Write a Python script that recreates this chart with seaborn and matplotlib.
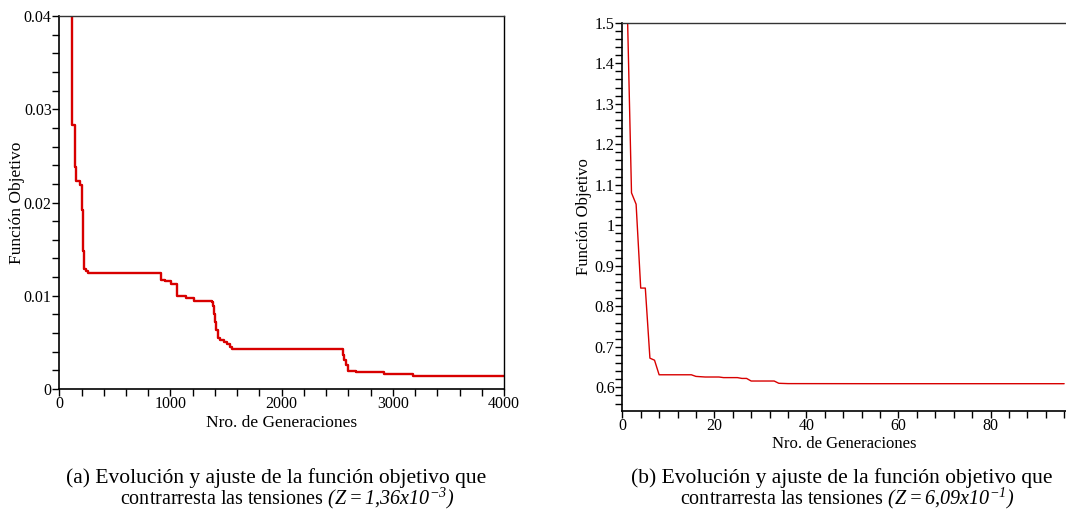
import matplotlib
matplotlib.use("Agg")
import matplotlib.pyplot as plt
import seaborn as sns
import pandas as pd
from matplotlib.ticker import MultipleLocator, FixedLocator, FixedFormatter

# ---------------- data ----------------
# (a) step evolution of the objective function over 4000 generations
gen_a = [1, 117, 138, 146, 183, 201, 205, 207, 213, 218, 222, 225, 243, 255,
         913, 949, 1009, 1059, 1062, 1137, 1209, 1377, 1385, 1392, 1400, 1410,
         1428, 1446, 1485, 1506, 1536, 1554, 2550, 2565, 2580, 2600, 2671,
         2925, 3180, 4000]
val_a = [0.09, 0.02835, 0.02383, 0.0223, 0.02184, 0.02131, 0.01953, 0.01918,
         0.01483, 0.0139, 0.01341, 0.01288, 0.01263, 0.01241,
         0.01171, 0.01156, 0.01128, 0.0107, 0.00993, 0.00979, 0.00939, 0.00928,
         0.00886, 0.00808, 0.00718, 0.0063, 0.00552, 0.0053, 0.00505, 0.0048,
         0.00452, 0.0043, 0.00363, 0.00309, 0.00256, 0.00196, 0.00186,
         0.00157, 0.00143, 0.00143]

# (b) evolution over ~96 generations
gen_b = [1, 2, 3, 4, 5, 6, 7, 8, 15, 16, 18, 21, 22, 25, 26, 27, 28, 33, 34,
         36, 54, 96]
val_b = [1.58, 1.08, 1.052, 0.845, 0.845, 0.672, 0.667, 0.631, 0.631, 0.627,
         0.6255, 0.6255, 0.624, 0.624, 0.622, 0.622, 0.6156, 0.6156, 0.610,
         0.6092, 0.609, 0.609]

ytick_a = [0, 0.01, 0.02, 0.03, 0.04]
ytick_a_labels = ["0", "0.01", "0.02", "0.03", "0.04"]
xtick_a = [0, 1000, 2000, 3000, 4000]
xtick_a_labels = ["0", "1000", "2000", "3000", "4000"]

ytick_b = [0.6, 0.7, 0.8, 0.9, 1.0, 1.1, 1.2, 1.3, 1.4, 1.5]
ytick_b_labels = ["0.6", "0.7", "0.8", "0.9", "1", "1.1", "1.2", "1.3", "1.4", "1.5"]
xtick_b = [0, 20, 40, 60, 80]
xtick_b_labels = ["0", "20", "40", "60", "80"]

xlabel = "Nro. de Generaciones"
ylabel = "Función Objetivo"
cap_a1 = "(a) Evolución y ajuste de la función objetivo que"
cap_a2 = r"contrarresta las tensiones $\mathsf{(Z{=}1{,}36x10^{-3})}$"
cap_b1 = "(b) Evolución y ajuste de la función objetivo que"
cap_b2 = r"contrarresta las tensiones $\mathsf{(Z{=}6{,}09x10^{-1})}$"

# ---------------- style ----------------
sns.set_theme(style="white")
plt.rcParams["font.family"] = ["Liberation Serif", "DejaVu Serif"]
plt.rcParams["text.color"] = "black"
plt.rcParams["mathtext.fontset"] = "custom"
plt.rcParams["mathtext.rm"] = "Liberation Serif"
plt.rcParams["mathtext.it"] = "Liberation Serif:italic"
plt.rcParams["mathtext.sf"] = "Liberation Serif:italic"
plt.rcParams["mathtext.bf"] = "Liberation Serif:bold"

RED = "#d80000"
W, H = 1066, 515
fig = plt.figure(figsize=(W / 100, H / 100), dpi=100)
fig.patch.set_facecolor("white")

def px_axes(l, t, r, b):
    return fig.add_axes([l / W, 1 - b / H, (r - l) / W, (b - t) / H])

ax1 = px_axes(59.3, 16, 504, 389)
ax2 = px_axes(622.3, 22.7, 1066, 411)

df_a = pd.DataFrame({"gen": gen_a, "val": val_a})
df_b = pd.DataFrame({"gen": gen_b, "val": val_b})

sns.lineplot(data=df_a, x="gen", y="val", ax=ax1, color=RED, linewidth=1.7,
             drawstyle="steps-post", estimator=None)
sns.lineplot(data=df_b, x="gen", y="val", ax=ax2, color=RED, linewidth=1.0,
             estimator=None)

ax1.set_xlim(0, 4000)
ax1.set_ylim(0, 0.04)
ax2.set_xlim(0, 96.4)
ax2.set_ylim(0.5416, 1.5)

for ax, xt, xtl, yt, ytl, xmin, ymin in [
        (ax1, xtick_a, xtick_a_labels, ytick_a, ytick_a_labels, 200, 0.002),
        (ax2, xtick_b, xtick_b_labels, ytick_b, ytick_b_labels, 4, 0.02)]:
    ax.xaxis.set_major_locator(FixedLocator(xt))
    ax.xaxis.set_major_formatter(FixedFormatter(xtl))
    ax.yaxis.set_major_locator(FixedLocator(yt))
    ax.yaxis.set_major_formatter(FixedFormatter(ytl))
    ax.xaxis.set_minor_locator(MultipleLocator(xmin))
    ax.yaxis.set_minor_locator(MultipleLocator(ymin))
    ax.tick_params(which="both", direction="out", bottom=True, left=True,
                   top=False, right=False, length=5, width=1, color="black",
                   labelcolor="black")
    ax.tick_params(axis="y", which="both", pad=0.5, labelsize=11.5)
    ax.tick_params(axis="x", which="both", pad=0, labelsize=11.5)
    ax.set_facecolor("white")
    ax.grid(False)
    for s in ["left", "bottom"]:
        ax.spines[s].set_color("black")
        ax.spines[s].set_linewidth(1.2)
    ax.spines["top"].set_color("#333333")
    ax.spines["top"].set_linewidth(1.0)

ax1.spines["right"].set_color("black")
ax1.spines["right"].set_linewidth(1.0)
ax2.spines["right"].set_visible(False)

ax1.set_xlabel(xlabel, fontsize=12.5, color="black")
ax1.set_ylabel(ylabel, fontsize=12.5, color="black")
ax2.set_xlabel(xlabel, fontsize=12, color="black")
ax2.set_ylabel(ylabel, fontsize=12, color="black")
for ax, xl_y, yl_x in [(ax1, -34 / 373, -0.095), (ax2, -33 / 388.3, -0.0863)]:
    ax.xaxis.label.set_va("center")
    ax.xaxis.set_label_coords(0.5, xl_y)
    ax.yaxis.label.set_va("center")
    ax.yaxis.set_label_coords(yl_x, 0.5)

# captions
cap_kw = dict(ha="center", va="baseline", color="black")
fig.text(276 / W, 1 - 483 / H, cap_a1, fontsize=15.5, **cap_kw)
fig.text(287 / W, 1 - 504 / H, cap_a2, fontsize=14.5, **cap_kw)
fig.text(842 / W, 1 - 483 / H, cap_b1, fontsize=15.5, **cap_kw)
fig.text(847 / W, 1 - 504 / H, cap_b2, fontsize=14.5, **cap_kw)

fig.savefig("out.png", dpi=100, facecolor="white")
